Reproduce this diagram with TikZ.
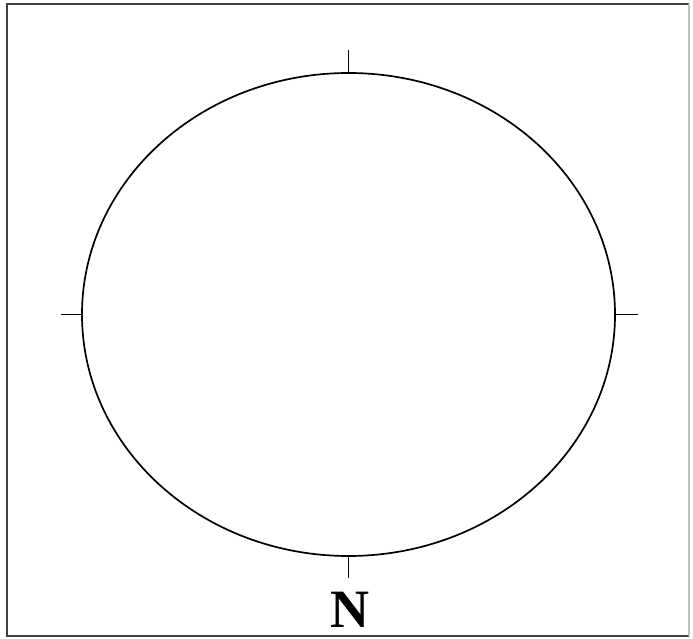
\documentclass[tikz,border=0pt]{standalone}
\usepackage{fontspec}
\setmainfont{Liberation Serif}
\usetikzlibrary{shapes.geometric}
\begin{document}
\begin{tikzpicture}[x=1pt,y=1pt,
  frame/.style={draw=black!75,line width=1.6pt},
  faintframe/.style={draw=black!25,line width=1.2pt},
  oval/.style={ellipse,draw=black,line width=1.7pt,inner sep=0pt,minimum width=533pt,minimum height=483pt},
  tick/.style={draw=black,line width=1.8pt},
  label/.style={font=\fontsize{54}{54}\selectfont\bfseries,inner sep=0pt}]
\useasboundingbox (0,0) rectangle (693,638);
\coordinate (bl) at (7,2);
\coordinate (tl) at (7,634);
\coordinate (tr) at (689,634);
\coordinate (br) at (689,2);
\draw[frame] (br) -- (bl) -- (tl) -- (tr);
\draw[faintframe] (tr) -- (br);
\node[oval] (e) at (348.5,323.5) {};
\draw[tick] (e.north) -- ++(0,22);
\draw[tick] (e.south) -- ++(0,-21);
\draw[tick] (e.west) -- ++(-20,0);
\draw[tick] (e.east) -- ++(22,0);
\node[label] (n) at (350,28) {N};
\end{tikzpicture}
\end{document}
